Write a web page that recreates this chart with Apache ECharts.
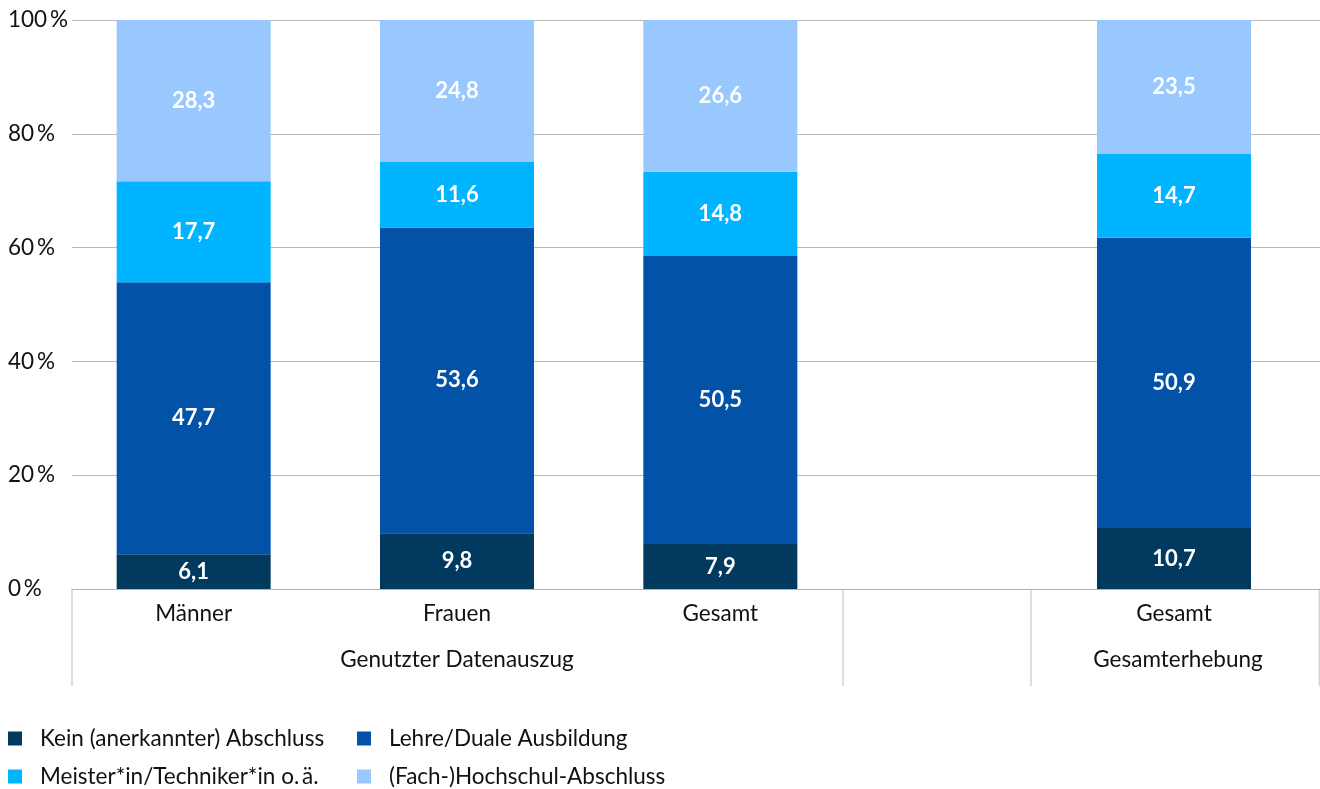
<!DOCTYPE html>
<html>
<head>
<meta charset="utf-8">
<script src="https://cdn.jsdelivr.net/npm/echarts@6/dist/echarts.min.js"></script>
<style>
html,body{margin:0;padding:0;background:#fff;}
#chart{width:1320px;height:789px;}
</style>
</head>
<body>
<div id="chart"></div>
<script>
// ---- data ----
const sampleCategories = ['Männer', 'Frauen', 'Gesamt'];
const sampleGroup = 'Genutzter Datenauszug';
const fullCategories = ['Gesamt'];
const fullGroup = 'Gesamterhebung';

const seriesNames = [
  'Kein (anerkannter) Abschluss',
  'Lehre/Duale Ausbildung',
  'Meister*in/Techniker*in o.\u2009ä.',
  '(Fach-)Hochschul-Abschluss'
];
const seriesColors = ['#023a5f', '#0252a8', '#00b4ff', '#99c8ff'];

const keinSample    = [6.1, 9.8, 7.9];
const lehreSample   = [47.7, 53.6, 50.5];
const meisterSample = [17.7, 11.6, 14.8];
const hochSample    = [28.3, 24.8, 26.6];

const keinFull    = [10.7];
const lehreFull   = [50.9];
const meisterFull = [14.7];
const hochFull    = [23.5];

const yTicks = [0, 20, 40, 60, 80, 100];

// ---- build ----
const FONT = 'Lato';
const FS = 22.5;
function normalize(groups) {
  const n = groups[0].length;
  const sums = [];
  for (let i = 0; i < n; i++) sums.push(groups.reduce((s, g) => s + g[i], 0));
  return groups.map(g => g.map((v, i) => ({ value: v / sums[i] * 100, raw: v })));
}
const sampleData = normalize([keinSample, lehreSample, meisterSample, hochSample]);
const fullData = normalize([keinFull, lehreFull, meisterFull, hochFull]);

const labelStyle = {
  show: true,
  position: 'inside',
  color: '#ffffff',
  fontFamily: FONT,
  fontSize: 22,
  fontWeight: 'bold',
  formatter: p => p.data.raw.toFixed(1).replace('.', ',')
};

const series = [];
seriesNames.forEach((name, k) => {
  series.push({
    name, type: 'bar', stack: 's1', xAxisIndex: 1, yAxisIndex: 1,
    barWidth: 154, itemStyle: { color: seriesColors[k] },
    label: labelStyle, data: sampleData[k], animation: false
  });
  series.push({
    name, type: 'bar', stack: 's2', xAxisIndex: 3, yAxisIndex: 2,
    barWidth: 154, itemStyle: { color: seriesColors[k] },
    label: labelStyle, data: fullData[k], animation: false
  });
});

const catLabel = { fontFamily: FONT, fontSize: FS, color: '#111' };
const TOP = 20, H = 569, AXY = TOP + H;

const legendBase = {
  orient: 'vertical', top: 727, height: 120, padding: 0,
  itemWidth: 14, itemHeight: 14, itemGap: 15, icon: 'rect',
  textStyle: { fontFamily: FONT, fontSize: FS, color: '#111', lineHeight: 23, padding: [0, 0, 0, 13] }
};

const option = {
  animation: false,
  grid: [
    { left: 72, top: TOP, width: 1248, height: H },
    { left: 62, top: TOP, width: 790, height: H },
    { left: 1028, top: TOP, width: 292, height: H },
    { left: 1036, top: TOP, width: 284, height: H }
  ],
  xAxis: [
    { gridIndex: 0, type: 'category', data: [''],
      axisLine: { show: true, lineStyle: { color: '#b3b3b3', width: 1 } },
      axisTick: { show: false }, axisLabel: { show: false } },
    { gridIndex: 1, type: 'category', data: sampleCategories,
      axisLine: { show: false }, axisTick: { show: false },
      axisLabel: Object.assign({ margin: 13 }, catLabel) },
    { gridIndex: 1, type: 'category', data: [sampleGroup], position: 'bottom', offset: 46,
      axisLine: { show: false }, axisTick: { show: false },
      axisLabel: Object.assign({ margin: 13 }, catLabel) },
    { gridIndex: 2, type: 'category', data: fullCategories,
      axisLine: { show: false }, axisTick: { show: false },
      axisLabel: Object.assign({ margin: 13 }, catLabel) },
    { gridIndex: 3, type: 'category', data: [fullGroup], position: 'bottom', offset: 46,
      axisLine: { show: false }, axisTick: { show: false },
      axisLabel: Object.assign({ margin: 13 }, catLabel) }
  ],
  yAxis: [
    { gridIndex: 0, type: 'value', min: yTicks[0], max: yTicks[yTicks.length - 1],
      interval: yTicks[1] - yTicks[0],
      axisLine: { show: false }, axisTick: { show: false },
      splitLine: { show: true, lineStyle: { color: '#b8b8b8', width: 1 } },
      axisLabel: { align: 'left', margin: 64, fontFamily: FONT, fontSize: FS, color: '#111',
        formatter: v => v + '\u2009%' } },
    { gridIndex: 1, type: 'value', min: 0, max: 100, show: false, splitLine: { show: false } },
    { gridIndex: 2, type: 'value', min: 0, max: 100, show: false, splitLine: { show: false } },
    { gridIndex: 3, type: 'value', min: 0, max: 100, show: false, splitLine: { show: false } }
  ],
  legend: [
    Object.assign({ data: [seriesNames[0], seriesNames[2]], left: 8 }, legendBase),
    Object.assign({ data: [seriesNames[1], seriesNames[3]], left: 357 }, legendBase)
  ],
  graphic: [72, 843, 1031, 1319.5].map(x => ({
    type: 'line', silent: true,
    shape: { x1: x, y1: AXY, x2: x, y2: 686 },
    style: { stroke: '#d0d0d0', lineWidth: 1.5 }
  })),
  series
};

const chart = echarts.init(document.getElementById('chart'), null, { renderer: 'canvas' });
chart.setOption(option);
</script>
</body>
</html>
